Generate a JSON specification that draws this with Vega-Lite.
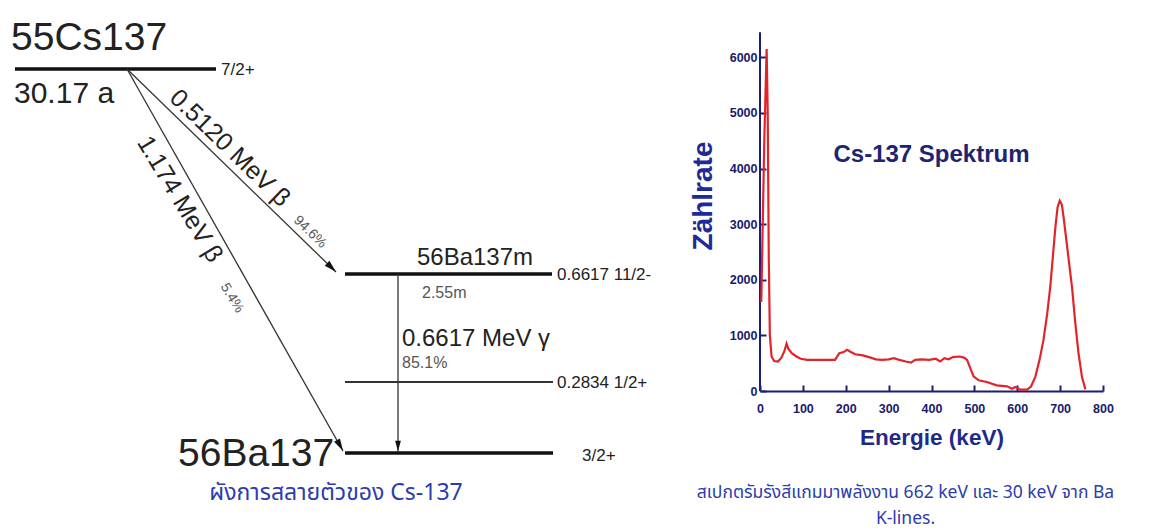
{
  "$schema": "https://vega.github.io/schema/vega-lite/v6.json",
  "padding": 0,
  "background": "white",
  "bounds": "flush",
  "spacing": 80,
  "config": {"view": {"stroke": null}, "font": "Liberation Sans"},
  "datasets": {
    "levels": [
      {"state": "55Cs137 ground", "type": "main", "x": 15, "x2": 216, "y": 69},
      {"state": "56Ba137m", "type": "main", "x": 345, "x2": 552, "y": 274},
      {"state": "56Ba137 0.2834", "type": "minor", "x": 345, "x2": 553, "y": 382},
      {"state": "56Ba137 ground", "type": "main", "x": 345, "x2": 553, "y": 453}
    ],
    "transitions": [
      {"decay": "beta 0.5120", "x": 127, "y": 69, "x2": 336, "y2": 272},
      {"decay": "beta 1.174", "x": 127, "y": 69, "x2": 343, "y2": 451},
      {"decay": "gamma 0.6617", "x": 398, "y": 274, "x2": 398, "y2": 452}
    ],
    "heads": [
      {"decay": "beta 0.5120", "x": 331.5, "y": 267.5},
      {"decay": "beta 1.174", "x": 340, "y": 445.5},
      {"decay": "gamma 0.6617", "x": 398, "y": 446}
    ],
    "labels": [
      {"role": "nuclide", "text": "55Cs137", "x": 11, "y": 50},
      {"role": "nuclide", "text": "56Ba137", "x": 178, "y": 466},
      {"role": "halflife", "text": "30.17 a", "x": 14, "y": 103},
      {"role": "spin", "text": "7/2+", "x": 221, "y": 70},
      {"role": "spin", "text": "0.6617 11/2-", "x": 557, "y": 275},
      {"role": "spin", "text": "0.2834 1/2+", "x": 557, "y": 383},
      {"role": "spin", "text": "3/2+", "x": 582, "y": 456},
      {"role": "isomer", "text": "56Ba137m", "x": 475, "y": 265},
      {"role": "gamma", "text": "0.6617 MeV γ", "x": 402, "y": 346},
      {"role": "minor", "text": "2.55m", "x": 422, "y": 298},
      {"role": "minor", "text": "85.1%", "x": 402, "y": 368},
      {"role": "beta1", "text": "0.5120 MeV β", "x": 230, "y": 148},
      {"role": "beta1pct", "text": "94.6%", "x": 310, "y": 232},
      {"role": "beta2", "text": "1.174 MeV β", "x": 180, "y": 199},
      {"role": "beta2pct", "text": "5.4%", "x": 232, "y": 298},
      {"role": "caption", "text": "ผังการสลายตัวของ Cs-137", "x": 336, "y": 493}
    ],
    "spectrum": [
      {"keV": 3, "count": 1600}, {"keV": 10, "count": 4500}, {"keV": 15.5, "count": 6150},
      {"keV": 18, "count": 5000}, {"keV": 20.5, "count": 2400}, {"keV": 23, "count": 1000},
      {"keV": 27, "count": 620}, {"keV": 33, "count": 540}, {"keV": 42, "count": 530},
      {"keV": 50, "count": 600}, {"keV": 57, "count": 720}, {"keV": 62, "count": 850},
      {"keV": 66, "count": 760}, {"keV": 74, "count": 680}, {"keV": 85, "count": 620},
      {"keV": 95, "count": 580}, {"keV": 110, "count": 560}, {"keV": 130, "count": 560},
      {"keV": 150, "count": 560}, {"keV": 175, "count": 560}, {"keV": 185, "count": 680},
      {"keV": 195, "count": 700}, {"keV": 203, "count": 740}, {"keV": 212, "count": 700},
      {"keV": 222, "count": 660}, {"keV": 240, "count": 640}, {"keV": 258, "count": 600},
      {"keV": 270, "count": 570}, {"keV": 285, "count": 560}, {"keV": 300, "count": 570},
      {"keV": 312, "count": 590}, {"keV": 325, "count": 560}, {"keV": 340, "count": 530},
      {"keV": 352, "count": 510}, {"keV": 362, "count": 560}, {"keV": 378, "count": 570},
      {"keV": 395, "count": 560}, {"keV": 410, "count": 580}, {"keV": 420, "count": 530},
      {"keV": 430, "count": 590}, {"keV": 440, "count": 570}, {"keV": 450, "count": 610},
      {"keV": 465, "count": 620}, {"keV": 476, "count": 600}, {"keV": 483, "count": 560},
      {"keV": 490, "count": 420}, {"keV": 498, "count": 264}, {"keV": 510, "count": 192},
      {"keV": 529, "count": 162}, {"keV": 552, "count": 102}, {"keV": 576, "count": 84},
      {"keV": 588, "count": 42}, {"keV": 595, "count": 72}, {"keV": 607, "count": 24},
      {"keV": 623, "count": 24}, {"keV": 632, "count": 80}, {"keV": 642, "count": 250},
      {"keV": 652, "count": 560}, {"keV": 661, "count": 910}, {"keV": 670, "count": 1400},
      {"keV": 677, "count": 1870}, {"keV": 684, "count": 2500}, {"keV": 689, "count": 2950},
      {"keV": 694, "count": 3300}, {"keV": 699, "count": 3420}, {"keV": 704, "count": 3350},
      {"keV": 708, "count": 3130}, {"keV": 716, "count": 2620}, {"keV": 722, "count": 2230},
      {"keV": 728, "count": 1850}, {"keV": 735, "count": 1250}, {"keV": 743, "count": 672},
      {"keV": 751, "count": 250}, {"keV": 759, "count": 30}
    ]
  },
  "hconcat": [
    {
      "width": 680,
      "height": 531,
      "encoding": {
        "x": {"field": "x", "type": "quantitative", "scale": {"domain": [0, 680], "nice": false, "zero": false}, "axis": null},
        "y": {"field": "y", "type": "quantitative", "scale": {"domain": [0, 531], "nice": false, "zero": false, "reverse": true}, "axis": null}
      },
      "layer": [
        {
          "data": {"name": "levels"},
          "transform": [{"filter": "datum.type === 'main'"}],
          "mark": {"type": "rule", "color": "#111111", "strokeWidth": 3.5},
          "encoding": {"x2": {"field": "x2"}}
        },
        {
          "data": {"name": "levels"},
          "transform": [{"filter": "datum.type === 'minor'"}],
          "mark": {"type": "rule", "color": "#333333", "strokeWidth": 1.8},
          "encoding": {"x2": {"field": "x2"}}
        },
        {
          "data": {"name": "transitions"},
          "mark": {"type": "rule", "color": "#333333", "strokeWidth": 1.3},
          "encoding": {"x2": {"field": "x2"}, "y2": {"field": "y2"}}
        },
        {
          "data": {"name": "heads"},
          "transform": [{"filter": "datum.decay === 'beta 0.5120'"}],
          "mark": {"type": "point", "shape": "M0,-1L0.55,1L-0.55,1Z", "filled": true, "color": "#111111", "size": 150, "angle": 134, "opacity": 1}
        },
        {
          "data": {"name": "heads"},
          "transform": [{"filter": "datum.decay === 'beta 1.174'"}],
          "mark": {"type": "point", "shape": "M0,-1L0.55,1L-0.55,1Z", "filled": true, "color": "#111111", "size": 150, "angle": 150.5, "opacity": 1}
        },
        {
          "data": {"name": "heads"},
          "transform": [{"filter": "datum.decay === 'gamma 0.6617'"}],
          "mark": {"type": "point", "shape": "M0,-1L0.55,1L-0.55,1Z", "filled": true, "color": "#111111", "size": 110, "angle": 180, "opacity": 1}
        },
        {
          "data": {"name": "labels"},
          "transform": [{"filter": "datum.role === 'nuclide'"}],
          "mark": {"type": "text", "align": "left", "baseline": "alphabetic", "font": "Liberation Sans", "fontSize": 39, "color": "#222222"},
          "encoding": {"text": {"field": "text"}}
        },
        {
          "data": {"name": "labels"},
          "transform": [{"filter": "datum.role === 'halflife'"}],
          "mark": {"type": "text", "align": "left", "baseline": "alphabetic", "font": "Liberation Sans", "fontSize": 30, "color": "#222222"},
          "encoding": {"text": {"field": "text"}}
        },
        {
          "data": {"name": "labels"},
          "transform": [{"filter": "datum.role === 'spin'"}],
          "mark": {"type": "text", "align": "left", "baseline": "middle", "font": "Liberation Sans", "fontSize": 17, "color": "#222222"},
          "encoding": {"text": {"field": "text"}}
        },
        {
          "data": {"name": "labels"},
          "transform": [{"filter": "datum.role === 'isomer'"}],
          "mark": {"type": "text", "align": "center", "baseline": "alphabetic", "font": "Liberation Sans", "fontSize": 24, "color": "#222222"},
          "encoding": {"text": {"field": "text"}}
        },
        {
          "data": {"name": "labels"},
          "transform": [{"filter": "datum.role === 'gamma'"}],
          "mark": {"type": "text", "align": "left", "baseline": "alphabetic", "font": "Liberation Sans", "fontSize": 24, "color": "#222222"},
          "encoding": {"text": {"field": "text"}}
        },
        {
          "data": {"name": "labels"},
          "transform": [{"filter": "datum.role === 'minor'"}],
          "mark": {"type": "text", "align": "left", "baseline": "alphabetic", "font": "Liberation Sans", "fontSize": 16, "color": "#555555"},
          "encoding": {"text": {"field": "text"}}
        },
        {
          "data": {"name": "labels"},
          "transform": [{"filter": "datum.role === 'beta1'"}],
          "mark": {"type": "text", "align": "center", "baseline": "middle", "font": "Liberation Sans", "fontSize": 25, "angle": 44, "color": "#222222"},
          "encoding": {"text": {"field": "text"}}
        },
        {
          "data": {"name": "labels"},
          "transform": [{"filter": "datum.role === 'beta1pct'"}],
          "mark": {"type": "text", "align": "center", "baseline": "middle", "font": "Liberation Sans", "fontSize": 14, "angle": 44, "color": "#555555"},
          "encoding": {"text": {"field": "text"}}
        },
        {
          "data": {"name": "labels"},
          "transform": [{"filter": "datum.role === 'beta2'"}],
          "mark": {"type": "text", "align": "center", "baseline": "middle", "font": "Liberation Sans", "fontSize": 25, "angle": 59, "color": "#222222"},
          "encoding": {"text": {"field": "text"}}
        },
        {
          "data": {"name": "labels"},
          "transform": [{"filter": "datum.role === 'beta2pct'"}],
          "mark": {"type": "text", "align": "center", "baseline": "middle", "font": "Liberation Sans", "fontSize": 14, "angle": 59, "color": "#555555"},
          "encoding": {"text": {"field": "text"}}
        },
        {
          "data": {"name": "labels"},
          "transform": [{"filter": "datum.role === 'caption'"}],
          "mark": {"type": "text", "align": "center", "baseline": "middle", "font": "Tahoma, Noto Sans Thai, Noto Sans, sans-serif", "fontSize": 23, "color": "#2c3cae"},
          "encoding": {"text": {"field": "text"}}
        }
      ]
    },
    {
      "width": 343,
      "height": 391,
      "title": {
        "text": ["สเปกตรัมรังสีแกมมาพลังงาน 662 keV และ 30 keV จาก Ba", "K-lines."],
        "orient": "bottom",
        "anchor": "middle",
        "frame": "group",
        "dx": -26,
        "offset": 35,
        "font": "Tahoma, Noto Sans Thai, Noto Sans, sans-serif",
        "fontSize": 17.5,
        "fontWeight": "normal",
        "lineHeight": 26,
        "color": "#2c3cae"
      },
      "encoding": {
        "x": {
          "field": "keV", "type": "quantitative",
          "scale": {"domain": [0, 800], "nice": false, "zero": false},
          "axis": {
            "values": [0, 100, 200, 300, 400, 500, 600, 700, 800],
            "format": "d",
            "title": "Energie (keV)",
            "grid": false,
            "domainColor": "#1d1d78", "domainWidth": 2,
            "tickColor": "#1d1d78", "tickWidth": 2, "tickSize": -6,
            "labelFont": "Liberation Sans", "labelFontWeight": "bold", "labelFontSize": 12.5, "labelColor": "#1a1a6a",
            "labelPadding": 17, "labelFlush": false,
            "titleFont": "Liberation Sans", "titleFontWeight": "bold", "titleFontSize": 22.5, "titleColor": "#1e2a8a",
            "titlePadding": 12
          }
        },
        "y": {
          "field": "count", "type": "quantitative",
          "scale": {"domain": [0, 7030], "nice": false, "zero": true},
          "axis": {
            "values": [0, 1000, 2000, 3000, 4000, 5000, 6000],
            "format": "d",
            "title": "Zählrate",
            "grid": false,
            "domain": false,
            "tickColor": "#1d1d78", "tickWidth": 2, "tickSize": -6,
            "labelFont": "Liberation Sans", "labelFontWeight": "bold", "labelFontSize": 12.5, "labelColor": "#1a1a6a",
            "labelPadding": 9, "labelFlush": false,
            "titleFont": "Liberation Sans", "titleFontWeight": "bold", "titleFontSize": 28, "titleColor": "#1e2a9a",
            "titlePadding": 12
          }
        }
      },
      "layer": [
        {
          "data": {"values": [{"keV": 0, "count": 0, "count2": 6450}]},
          "mark": {"type": "rule", "color": "#1d1d78", "strokeWidth": 2},
          "encoding": {"y2": {"field": "count2"}}
        },
        {
          "data": {"name": "spectrum"},
          "mark": {"type": "line", "color": "#e0242a", "strokeWidth": 2.2},
          "encoding": {}
        },
        {
          "data": {"values": [{"keV": 400, "count": 4240, "label": "Cs-137 Spektrum"}]},
          "mark": {"type": "text", "align": "center", "baseline": "middle", "font": "Liberation Sans", "fontWeight": "bold", "fontSize": 24, "color": "#1e2470"},
          "encoding": {"text": {"field": "label"}}
        }
      ]
    }
  ]
}
